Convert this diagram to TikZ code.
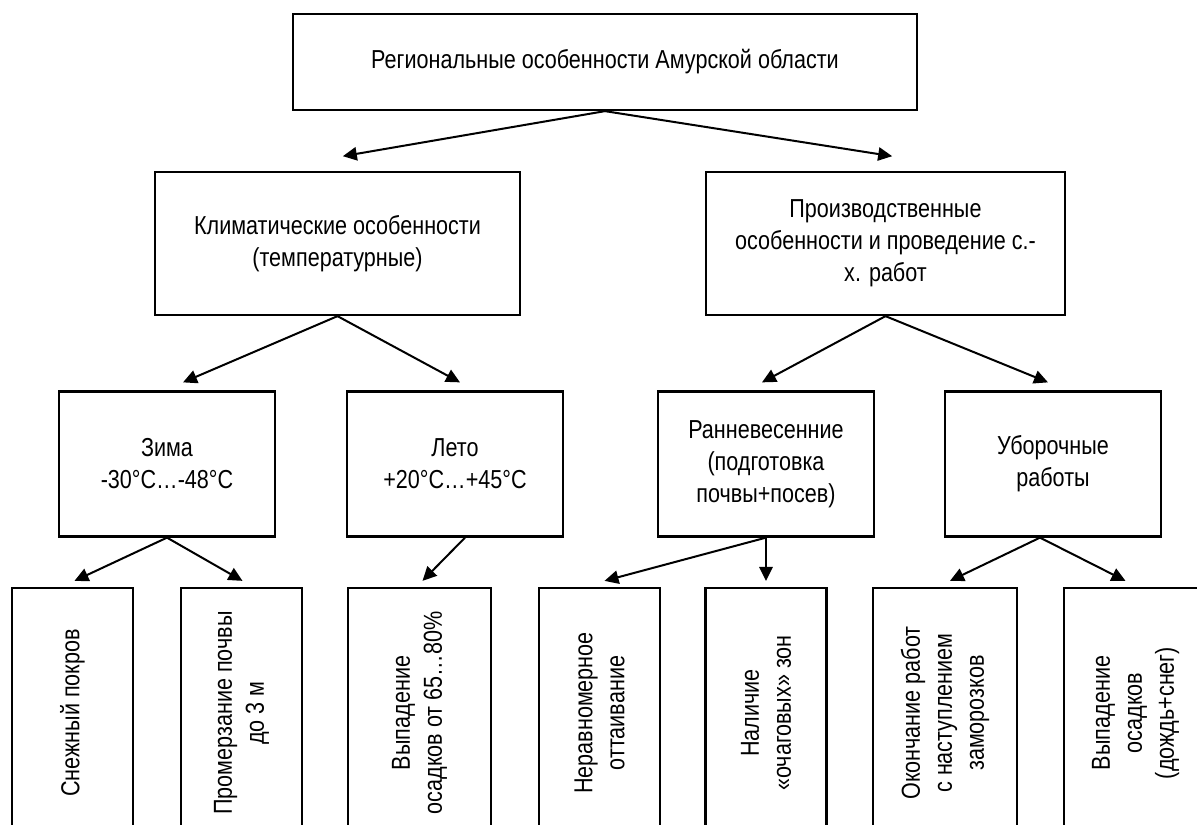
\documentclass[tikz,border=0pt]{standalone}
\usepackage{fontspec}
\setmainfont[FakeStretch=0.83]{Liberation Sans}
\usepackage{tikz}
\usetikzlibrary{arrows.meta}

\def\upx{0.75pt}

\tikzset{
  box/.style={draw, line width=1.7pt, align=center, inner sep=0pt,
    font=\fontsize{19.5}{24}\selectfont},
  arr/.style={line width=1.5pt, -{Triangle[length=10.5pt,width=10pt]}}
}

\begin{document}
\begin{tikzpicture}[x=0.75pt,y=-0.75pt]

\useasboundingbox (0,0) rectangle (1197,825);
\clip (0,0) rectangle (1197,825);

\node[box, minimum width=624*\upx, minimum height=96*\upx] (region) at (605,62) {Региональные особенности Амурской области};

\node[box, minimum width=365*\upx, minimum height=143*\upx] (climate) at (337.5,243.5) {Климатические особенности\\(температурные)};
\node[box, minimum width=359*\upx, minimum height=143*\upx] (prod) at (885.5,243.5) {Производственные\\особенности и проведение с.-\\х. работ};

\foreach \n/\x/\t in {winter/167/{Зима\\-30°C…-48°C}, summer/455/{Лето\\+20°C…+45°C}, spring/766/{Ранневесенние\\(подготовка\\почвы+посев)}, harvest/1053/{Уборочные\\работы}} {
  \node[box, minimum width=216*\upx, minimum height=145*\upx] (\n) at (\x,464) {\t};
}

\foreach \n/\x/\w/\t in {snow/72.5/121/{Снежный покров}, frost/241.5/121/{Промерзание почвы\\до 3 м}, rain/419.5/143/{Выпадение\\осадков от 65…80\%}, thaw/599.5/121/{Неравномерное\\оттаивание}, spots/766/121/{Наличие\\«очаговых» зон}, finish/945/144/{Окончание работ\\с наступлением\\заморозков}, snowfall/1135.5/143/{Выпадение\\осадков\\(дождь+снег)}} {
  \node[box, rotate=90, minimum width=250*\upx, minimum height=\w*\upx] (\n) at (\x,713) {\t};
}

\draw[arr] (region.south) -- ([xshift=4pt,yshift=11pt]climate.north);
\draw[arr] (region.south) -- ([xshift=5pt,yshift=11pt]prod.north);

\foreach \a/\b/\dx in {climate/winter/16, climate/summer/5, prod/spring/-4, prod/harvest/-5} {
  \draw[arr] (\a.south) -- ([xshift=\dx*\upx,yshift=6pt]\b.north);
}

\foreach \a/\sx/\b/\tx in {winter/0/snow/2, winter/0/frost/1, summer/10/rain/3, spring/0/thaw/5, spring/0/spots/0, harvest/-13/finish/5, harvest/-13/snowfall/-10} {
  \draw[arr] ([xshift=\sx*\upx]\a.south) -- ([xshift=\tx*\upx,yshift=4.5pt]\b.east);
}

\end{tikzpicture}
\end{document}
